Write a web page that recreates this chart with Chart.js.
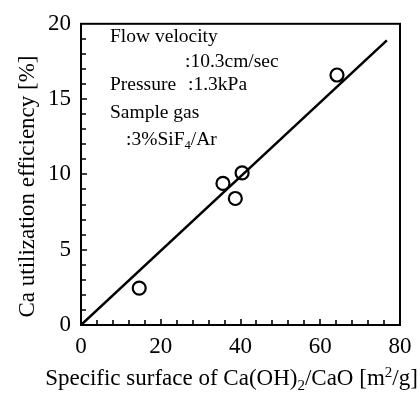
<!DOCTYPE html>
<html>
<head>
<meta charset="utf-8">
<script src="https://cdn.jsdelivr.net/npm/chart.js@4.4.1/dist/chart.umd.min.js"></script>
<style>
  html, body { margin: 0; padding: 0; background: #fff; }
  #wrap { width: 420px; height: 394px; position: relative; }
</style>
</head>
<body>
<div id="wrap"><canvas id="c" width="420" height="394"></canvas></div>
<script>
// ---- Data ----
const surfaceArea = [14.6, 35.6, 38.7, 40.4, 64.2];      // m2/g
const caEfficiency = [2.45, 9.4, 8.4, 10.1, 16.6];       // %
const fitX = [0, 76.7];
const fitY = [0, 18.9];
const xTickLabels = [0, 20, 40, 60, 80];
const yTickLabels = [0, 5, 10, 15, 20];
const xMinorStep = 4;
const yMinorStep = 1;

const FONT = '"Liberation Serif", "Times New Roman", serif';

// inward ticks (major + minor) and full frame
const frameTicks = {
  id: 'frameTicks',
  afterDraw(chart) {
    const { ctx, chartArea: a, scales } = chart;
    const sx = scales.x, sy = scales.y;
    ctx.save();
    ctx.strokeStyle = '#000';
    ctx.lineWidth = 1.6;
    ctx.beginPath();
    for (let v = sx.min + xMinorStep; v < sx.max; v += xMinorStep) {
      const px = Math.round(sx.getPixelForValue(v));
      const len = xTickLabels.includes(v) ? 6 : 5;
      ctx.moveTo(px, a.bottom);
      ctx.lineTo(px, a.bottom - len);
    }
    for (let v = sy.min + yMinorStep; v < sy.max; v += yMinorStep) {
      const py = Math.round(sy.getPixelForValue(v));
      const len = yTickLabels.includes(v) ? 6 : 5;
      ctx.moveTo(a.left, py);
      ctx.lineTo(a.left + len, py);
    }
    ctx.stroke();
    ctx.lineWidth = 2;
    ctx.strokeRect(a.left, a.top, a.right - a.left, a.bottom - a.top);
    ctx.restore();
  }
};

// draws a run of [text, kind] pieces; kind: 'n' normal, 'sub', 'sup'
function drawRich(ctx, parts, x, y, size) {
  let cx = x;
  parts.forEach(([txt, kind]) => {
    let fs = size, dy = 0;
    if (kind === 'sub') { fs = size * 0.65; dy = size * 0.22; }
    if (kind === 'sup') { fs = size * 0.65; dy = -size * 0.36; }
    ctx.font = fs + 'px ' + FONT;
    ctx.fillText(txt, cx, y + dy);
    cx += ctx.measureText(txt).width;
  });
  return cx - x;
}
function richWidth(ctx, parts, size) {
  let w = 0;
  parts.forEach(([txt, kind]) => {
    const fs = (kind === 'n') ? size : size * 0.65;
    ctx.font = fs + 'px ' + FONT;
    w += ctx.measureText(txt).width;
  });
  return w;
}

const textPlugin = {
  id: 'texts',
  afterDraw(chart) {
    const { ctx } = chart;
    ctx.save();
    ctx.fillStyle = '#000';
    ctx.textBaseline = 'alphabetic';
    ctx.textAlign = 'left';
    // x title
    const xt = [['Specific surface of Ca(OH)', 'n'], ['2', 'sub'], ['/CaO [m', 'n'], ['2', 'sup'], ['/g]', 'n']];
    const xs = 23;
    const xw = richWidth(ctx, xt, xs);
    drawRich(ctx, xt, 231.5 - xw / 2, 385, xs);
    // y title
    ctx.save();
    ctx.translate(34, 186.5);
    ctx.rotate(-Math.PI / 2);
    ctx.font = '23px ' + FONT;
    ctx.textAlign = 'center';
    ctx.fillText('Ca utilization efficiency [%]', 0, 0);
    ctx.restore();
    // annotation block
    const s = 19.5;
    drawRich(ctx, [['Flow velocity', 'n']], 110, 42, s);
    drawRich(ctx, [[':10.3cm/sec', 'n']], 185, 67, s);
    drawRich(ctx, [['Pressure', 'n']], 110, 90, s);
    drawRich(ctx, [[':1.3kPa', 'n']], 188, 90, s);
    drawRich(ctx, [['Sample gas', 'n']], 110, 118, s);
    drawRich(ctx, [[':3%SiF', 'n'], ['4', 'sub'], ['/Ar', 'n']], 126, 145, s);
    ctx.restore();
  }
};

new Chart(document.getElementById('c'), {
  type: 'scatter',
  data: {
    datasets: [
      {
        type: 'line',
        data: fitX.map((x, i) => ({ x, y: fitY[i] })),
        borderColor: '#000',
        borderWidth: 2.5,
        pointRadius: 0,
        fill: false,
        tension: 0
      },
      {
        data: surfaceArea.map((x, i) => ({ x, y: caEfficiency[i] })),
        pointStyle: 'circle',
        pointRadius: 6.5,
        pointBorderWidth: 2.2,
        pointBorderColor: '#000',
        pointBackgroundColor: 'rgba(255,255,255,0)'
      }
    ]
  },
  options: {
    responsive: false,
    animation: false,
    devicePixelRatio: 1,
    layout: { padding: { top: 14, right: 20, left: 0, bottom: 0 } },
    plugins: { legend: { display: false }, tooltip: { enabled: false } },
    scales: {
      x: {
        type: 'linear', min: 0, max: 80,
        afterFit(s) { s.height = 69; },
        afterBuildTicks(s) { s.ticks = xTickLabels.map(v => ({ value: v })); },
        grid: { display: false, drawTicks: false },
        border: { display: false },
        ticks: {
          autoSkip: false, maxRotation: 0,
          padding: 8, color: '#000',
          font: { family: FONT, size: 23 }
        }
      },
      y: {
        type: 'linear', min: 0, max: 20,
        afterFit(s) { s.width = 81; },
        afterBuildTicks(s) { s.ticks = yTickLabels.map(v => ({ value: v })); },
        grid: { display: false, drawTicks: false },
        border: { display: false },
        ticks: {
          autoSkip: false,
          padding: 10, color: '#000',
          font: { family: FONT, size: 23 }
        }
      }
    }
  },
  plugins: [frameTicks, textPlugin]
});
</script>
</body>
</html>
